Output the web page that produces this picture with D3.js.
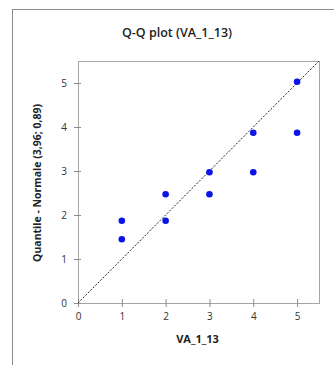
<!DOCTYPE html>
<html>
<head>
<meta charset="utf-8">
<script src="https://cdn.jsdelivr.net/npm/d3@7"></script>
<style>
  body { margin: 0; background: #fff; }
  svg { display: block; }
</style>
</head>
<body>
<script>
// observed values (x) and normal quantiles (y)
var obsValues = [1, 1, 2, 2, 3, 3, 4, 4, 5, 5];
var quantValues = [1.87, 1.45, 2.47, 1.87, 2.97, 2.47, 3.87, 2.97, 5.03, 3.87];
var xTicks = [0, 1, 2, 3, 4, 5];
var yTicks = [0, 1, 2, 3, 4, 5];
var titleText = "Q-Q plot (VA_1_13)";
var xLabel = "VA_1_13";
var yLabel = "Quantile - Normale (3,96; 0,89)";

var width = 334, height = 365;
var margin = {top: 61, right: 15, bottom: 62, left: 78};
var plotW = width - margin.left - margin.right;
var plotH = height - margin.top - margin.bottom;
var font = "'Open Sans', 'Noto Sans', sans-serif";

var svg = d3.select("body").append("svg")
    .attr("width", width)
    .attr("height", height);

// outer frame
svg.append("rect")
    .attr("x", 12.5).attr("y", 9.5)
    .attr("width", 340).attr("height", 380)
    .attr("fill", "none")
    .attr("stroke", "#8c8c8c");

svg.append("text")
    .attr("x", 177).attr("y", 37)
    .attr("text-anchor", "middle")
    .style("font-family", font)
    .style("font-size", "12.5px")
    .style("font-weight", "600")
    .attr("fill", "#222")
    .text(titleText);

var g = svg.append("g")
    .attr("transform", "translate(" + margin.left + "," + margin.top + ")");

var xScale = d3.scaleLinear().domain([0, 5.5]).range([0, plotW]);
var yScale = d3.scaleLinear().domain([0, 5.5]).range([plotH, 0]);

g.append("rect")
    .attr("x", 0.5).attr("y", 0.5)
    .attr("width", plotW).attr("height", plotH)
    .attr("fill", "none")
    .attr("stroke", "#a6a6a6");

var xAxis = g.append("g")
    .attr("transform", "translate(0," + plotH + ")")
    .call(d3.axisBottom(xScale).tickValues(xTicks).tickFormat(d3.format("d")).tickSize(4).tickPadding(6));
var yAxis = g.append("g")
    .call(d3.axisLeft(yScale).tickValues(yTicks).tickFormat(d3.format("d")).tickSize(4).tickPadding(7));

[xAxis, yAxis].forEach(function(ax) {
  ax.select(".domain").remove();
  ax.selectAll(".tick line").attr("stroke", "#8c8c8c");
  ax.selectAll(".tick text")
    .style("font-family", font)
    .style("font-size", "10px")
    .attr("fill", "#333");
});
// ticks cross the axis line
xAxis.selectAll(".tick line").attr("y1", -4).attr("y2", 4);
yAxis.selectAll(".tick line").attr("x1", -4).attr("x2", 3);

// reference diagonal
g.append("line")
    .attr("x1", xScale(0)).attr("y1", yScale(0))
    .attr("x2", xScale(5.5)).attr("y2", yScale(5.5))
    .attr("stroke", "#222")
    .attr("stroke-width", 1)
    .attr("stroke-dasharray", "2,1.5");

g.selectAll("circle.pt")
    .data(obsValues)
    .enter().append("circle")
    .attr("class", "pt")
    .attr("cx", function(d) { return xScale(d); })
    .attr("cy", function(d, i) { return yScale(quantValues[i]); })
    .attr("r", 3.3)
    .attr("fill", "#0a14e6");

svg.append("text")
    .attr("x", margin.left + plotW / 2 - 1).attr("y", 343)
    .attr("text-anchor", "middle")
    .style("font-family", font)
    .style("font-size", "11px")
    .style("font-weight", "bold")
    .attr("fill", "#222")
    .text(xLabel);

svg.append("text")
    .attr("transform", "translate(41," + (margin.top + plotH / 2 + 1) + ") rotate(-90)")
    .attr("text-anchor", "middle")
    .style("font-family", font)
    .style("font-size", "10.5px")
    .style("font-weight", "bold")
    .attr("fill", "#222")
    .text(yLabel);
</script>
</body>
</html>
